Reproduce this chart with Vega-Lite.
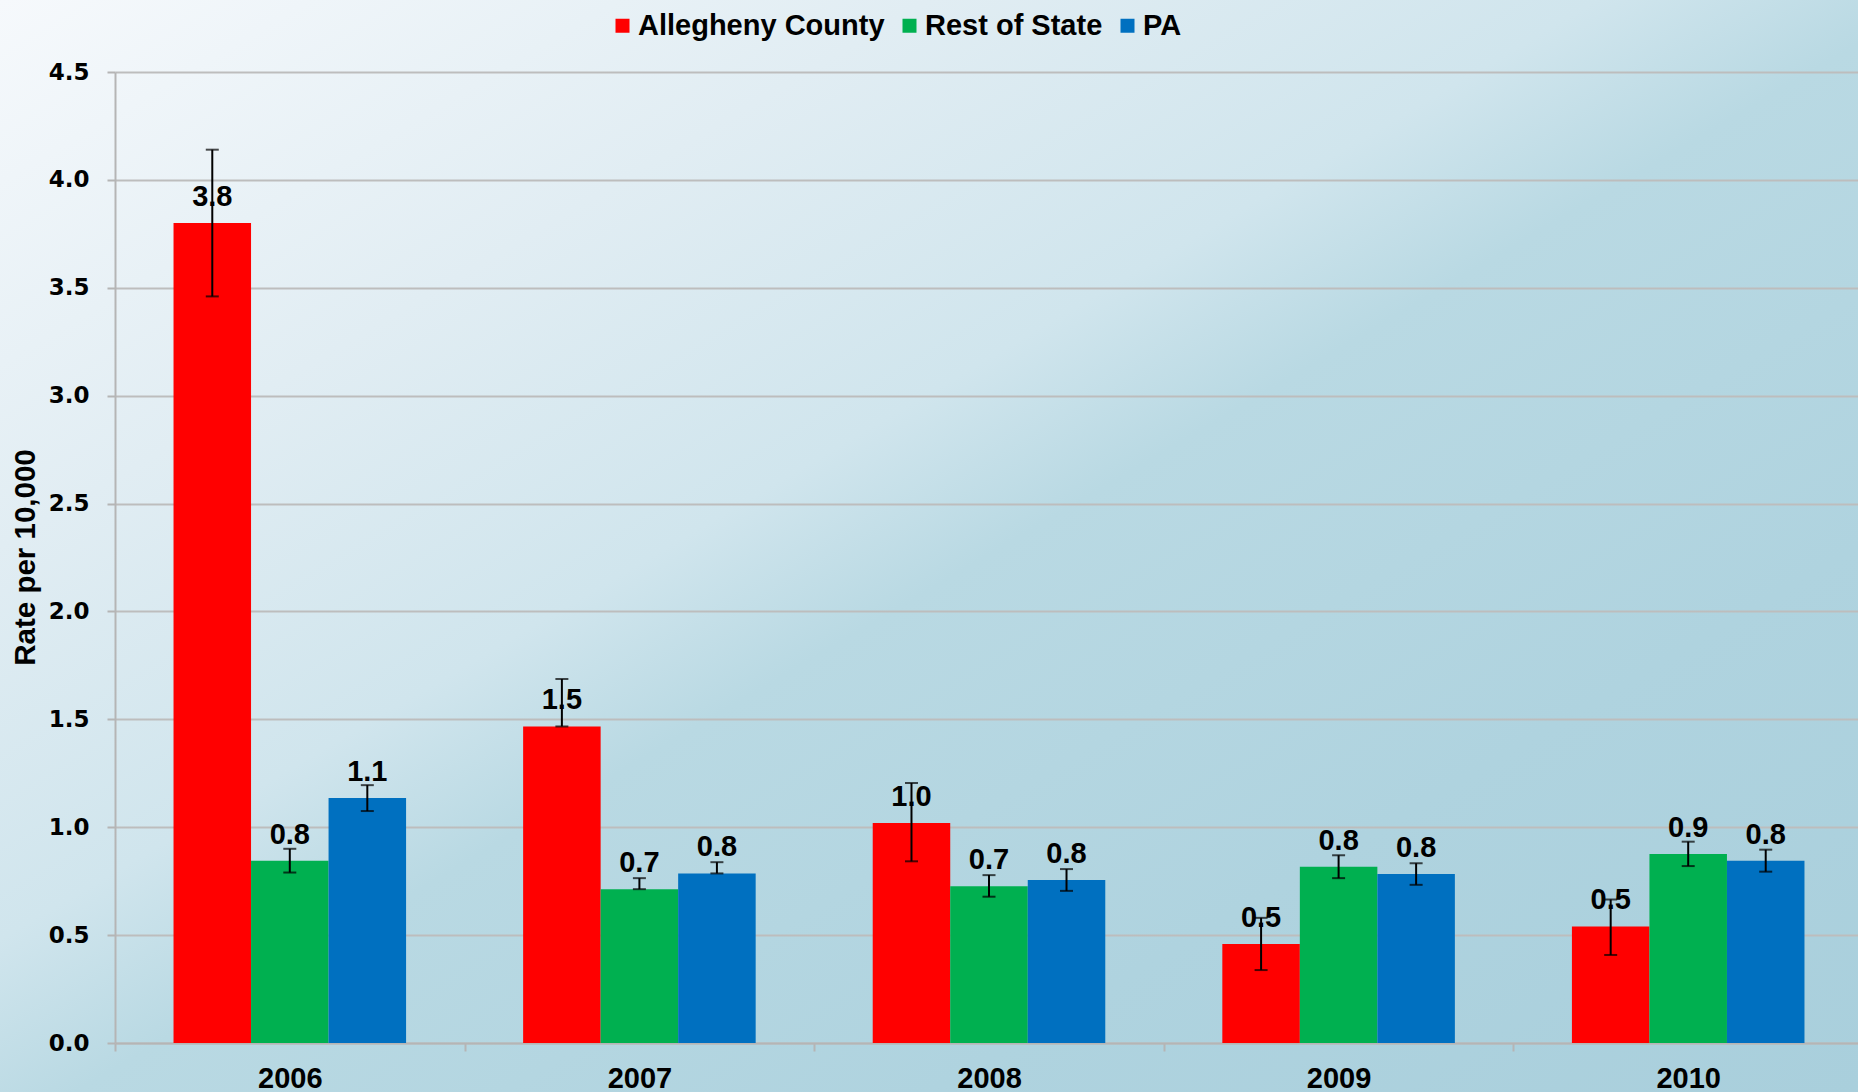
{
  "$schema": "https://vega.github.io/schema/vega-lite/v6.json",
  "width": 1858,
  "height": 1092,
  "autosize": {"type": "none"},
  "padding": 0,
  "background": "#d2e6ee",
  "config": {
    "view": {
      "stroke": null,
      "fill": {
        "gradient": "linear", "x1": 0, "y1": 0, "x2": 1, "y2": 1,
        "stops": [
          {"offset": 0, "color": "#f6f9fc"},
          {"offset": 0.25, "color": "#e1edf3"},
          {"offset": 0.43, "color": "#d0e5ed"},
          {"offset": 0.52, "color": "#b9d9e3"},
          {"offset": 0.75, "color": "#afd3df"},
          {"offset": 1, "color": "#a9cfdc"}
        ]
      }
    },
    "font": "Liberation Sans"
  },
  "data": {
    "values": [
      {"year": "2006", "series": "Allegheny County", "value": 3.80, "lo": 3.46, "hi": 4.14},
      {"year": "2006", "series": "Rest of State", "value": 0.845, "lo": 0.79, "hi": 0.90},
      {"year": "2006", "series": "PA", "value": 1.135, "lo": 1.075, "hi": 1.195},
      {"year": "2007", "series": "Allegheny County", "value": 1.467, "lo": 1.467, "hi": 1.687},
      {"year": "2007", "series": "Rest of State", "value": 0.713, "lo": 0.713, "hi": 0.764},
      {"year": "2007", "series": "PA", "value": 0.786, "lo": 0.786, "hi": 0.838},
      {"year": "2008", "series": "Allegheny County", "value": 1.020, "lo": 0.842, "hi": 1.205},
      {"year": "2008", "series": "Rest of State", "value": 0.727, "lo": 0.678, "hi": 0.778},
      {"year": "2008", "series": "PA", "value": 0.755, "lo": 0.705, "hi": 0.806},
      {"year": "2009", "series": "Allegheny County", "value": 0.459, "lo": 0.338, "hi": 0.58},
      {"year": "2009", "series": "Rest of State", "value": 0.817, "lo": 0.764, "hi": 0.870},
      {"year": "2009", "series": "PA", "value": 0.783, "lo": 0.733, "hi": 0.833},
      {"year": "2010", "series": "Allegheny County", "value": 0.540, "lo": 0.408, "hi": 0.665},
      {"year": "2010", "series": "Rest of State", "value": 0.876, "lo": 0.820, "hi": 0.933},
      {"year": "2010", "series": "PA", "value": 0.845, "lo": 0.794, "hi": 0.896}
    ]
  },
  "encoding": {
    "x": {
      "field": "year", "type": "nominal",
      "scale": {"range": [115, 1863], "paddingInner": 0, "paddingOuter": 0},
      "axis": {
        "title": null, "offset": -49, "tickBand": "extent", "labelAngle": 0,
        "labelFont": "Liberation Sans", "labelFontSize": 29, "labelFontWeight": "bold", "labelColor": "black",
        "labelPadding": 13, "tickSize": 8, "tickWidth": 2, "tickColor": "#b5b5b5",
        "domainColor": "#b5b5b5", "domainWidth": 2, "grid": false
      }
    },
    "xOffset": {
      "field": "series", "type": "nominal",
      "sort": ["Allegheny County", "Rest of State", "PA"],
      "scale": {"paddingInner": 0, "paddingOuter": 0.755}
    }
  },
  "layer": [
    {
      "mark": {"type": "bar"},
      "encoding": {
        "y": {
          "field": "value", "type": "quantitative", "title": "Rate per 10,000",
          "scale": {"domain": [0, 4.5], "nice": false, "range": [1043, 72]},
          "axis": {
            "offset": -115, "values": [0, 0.5, 1, 1.5, 2, 2.5, 3, 3.5, 4, 4.5], "format": ".1f",
            "labelFont": "DejaVu Sans", "labelFontWeight": "bold", "labelFontSize": 23, "labelColor": "black",
            "labelPadding": 18, "tickSize": 8, "tickWidth": 2, "tickColor": "#b5b5b5",
            "domainColor": "#b5b5b5", "domainWidth": 2,
            "grid": true, "gridColor": "#bdbdbd", "gridWidth": 2,
            "titleFont": "Liberation Sans", "titleFontSize": 29.5, "titleFontWeight": "bold", "titleColor": "black",
            "titleX": -90, "titleY": 557, "titleBaseline": "middle", "titleAngle": -90, "titleAlign": "center"
          }
        },
        "color": {
          "field": "series", "type": "nominal",
          "sort": ["Allegheny County", "Rest of State", "PA"],
          "scale": {"domain": ["Allegheny County", "Rest of State", "PA"], "range": ["#ff0000", "#00b050", "#0070c0"]},
          "legend": {
            "orient": "none", "legendX": 608, "legendY": 11, "direction": "horizontal", "title": null,
            "symbolType": "square", "symbolSize": 196, "symbolStrokeWidth": 0,
            "labelFont": "Liberation Sans", "labelFontSize": 29, "labelFontWeight": "bold", "labelColor": "black",
            "labelOffset": 1, "columnPadding": 10, "labelLimit": 0
          }
        }
      }
    },
    {
      "mark": {"type": "text", "dy": -17, "fontSize": 29, "fontWeight": "bold", "font": "Liberation Sans", "color": "black", "baseline": "alphabetic"},
      "encoding": {
        "y": {"field": "value", "type": "quantitative", "title": "Rate per 10,000"},
        "text": {"field": "value", "type": "quantitative", "format": ".1f"}
      }
    },
    {
      "mark": {"type": "rule", "color": "black", "strokeWidth": 2},
      "encoding": {
        "y": {"field": "lo", "type": "quantitative", "title": "Rate per 10,000"},
        "y2": {"field": "hi"}
      }
    },
    {
      "mark": {"type": "tick", "color": "black", "thickness": 2, "size": 13},
      "encoding": {
        "y": {"field": "lo", "type": "quantitative", "title": "Rate per 10,000"}
      }
    },
    {
      "mark": {"type": "tick", "color": "black", "thickness": 2, "size": 13},
      "encoding": {
        "y": {"field": "hi", "type": "quantitative", "title": "Rate per 10,000"}
      }
    }
  ]
}
